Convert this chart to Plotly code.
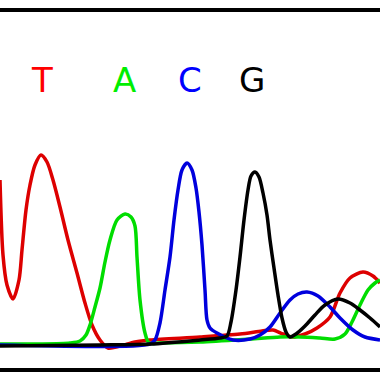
import plotly.graph_objects as go

# Base calls and their positions along the trace
base_calls = ["T", "A", "C", "G"]
call_positions = [42, 124, 190, 252]

# Trace signals (scan position, intensity)
t_x = [0, 3, 7, 13, 19, 22, 26, 30, 35, 41, 47, 53, 60, 68, 77, 85, 92, 100, 108, 120, 135, 150, 200, 240, 262, 273, 283, 292, 305, 317, 330, 340, 350, 363, 373, 380]
t_y = [180, 255, 285, 299, 280, 250, 210, 185, 165, 155, 162, 180, 207, 240, 273, 303, 325, 340, 348, 346, 342, 340, 337, 334, 331, 330, 334, 337, 334, 328, 317, 293, 278, 272, 276, 283]

a_x = [0, 40, 70, 80, 86, 90, 95, 100, 105, 110, 117, 125, 131, 135, 137, 140, 145, 149, 160, 200, 250, 280, 300, 320, 335, 345, 352, 360, 368, 375, 380]
a_y = [344, 344, 343, 341, 335, 325, 307, 288, 262, 240, 220, 214, 217, 226, 257, 300, 333, 343, 343, 342, 339, 337, 337, 338, 339, 334, 322, 305, 290, 283, 280]

c_x = [0, 150, 155, 160, 165, 170, 174, 178, 182, 187, 192, 196, 199, 202, 205, 207, 210, 217, 233, 250, 260, 270, 280, 290, 298, 307, 318, 330, 340, 353, 365, 380]
c_y = [345, 344, 340, 323, 290, 257, 220, 190, 170, 163, 170, 188, 212, 245, 290, 320, 328, 333, 340, 339, 335, 327, 313, 300, 294, 292, 296, 307, 318, 330, 337, 340]

g_x = [0, 100, 150, 200, 220, 227, 231, 236, 240, 244, 248, 251, 255, 259, 263, 267, 270, 274, 278, 282, 286, 290, 296, 305, 315, 325, 338, 350, 360, 370, 380]
g_y = [346, 345, 344, 340, 338, 336, 322, 290, 257, 220, 190, 176, 172, 177, 193, 215, 240, 268, 295, 318, 332, 337, 334, 326, 315, 305, 299, 303, 310, 318, 327]

TOP = 368  # pixel row of the plot bottom; intensity = TOP - row


def sig(v):
    return [TOP - p for p in v]


series = [
    ("T", t_x, t_y, "#dd0000"),
    ("A", a_x, a_y, "#00dd00"),
    ("C", c_x, c_y, "#0000dd"),
    ("G", g_x, g_y, "#000000"),
]
text_colors = {"T": "#ff0000", "A": "#00ee00", "C": "#0000ff", "G": "#000000"}

fig = go.Figure()
for name, xs, ys, col in series:
    fig.add_trace(go.Scatter(
        x=xs, y=sig(ys), mode="lines", name=name,
        line=dict(color=col, width=3.5, shape="spline", smoothing=0.8),
        hoverinfo="skip",
    ))

for b, xp in zip(base_calls, call_positions):
    fig.add_annotation(
        x=xp, y=TOP - 80, text=b, showarrow=False,
        font=dict(family="DejaVu Sans", size=34, color=text_colors[b]),
        xanchor="center", yanchor="middle",
    )

fig.update_layout(
    width=380, height=380,
    margin=dict(l=0, r=0, t=12, b=12),
    paper_bgcolor="white", plot_bgcolor="white",
    showlegend=False,
    xaxis=dict(range=[0, 380], showgrid=False, zeroline=False, showticklabels=False,
               ticks="", showline=True, mirror=True, linecolor="black", linewidth=3.5),
    yaxis=dict(range=[0, 356], showgrid=False, zeroline=False, showticklabels=False,
               ticks="", showline=False),
)

fig.write_html(
    "out.html",
    config={"displayModeBar": False},
    post_script="document.body.style.margin='0';document.body.style.overflow='hidden';",
)
